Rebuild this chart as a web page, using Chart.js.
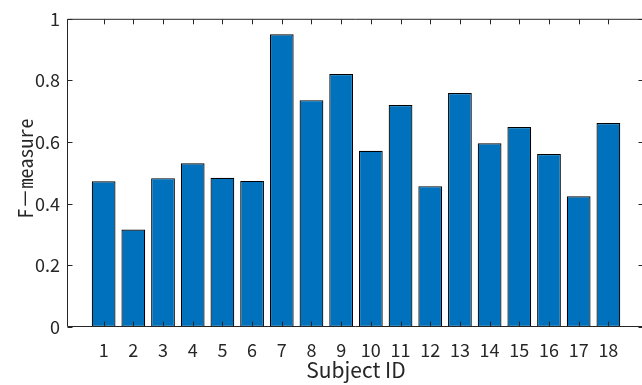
<!DOCTYPE html>
<html>
<head>
<meta charset="utf-8">
<script src="https://cdn.jsdelivr.net/npm/chart.js@4.4.1/dist/chart.umd.min.js"></script>
<style>
  html, body { margin: 0; padding: 0; background: #fff; overflow: hidden; width: 642px; height: 385px; }
  canvas { display: block; }
</style>
</head>
<body>
<canvas id="c" width="650" height="385" style="width:650px;height:385px"></canvas>
<script>
const subjects = [1, 2, 3, 4, 5, 6, 7, 8, 9, 10, 11, 12, 13, 14, 15, 16, 17, 18];
const fMeasure = [0.473, 0.316, 0.483, 0.531, 0.484, 0.474, 0.950, 0.736, 0.821, 0.572, 0.720, 0.457, 0.759, 0.596, 0.649, 0.561, 0.424, 0.662];
const yTickValues = [0, 0.2, 0.4, 0.6, 0.8, 1];
const xLabel = 'Subject ID';
const yLabel = 'F\uFF0Dmeasure';

const FONT = '"Noto Sans CJK JP", "Noto Sans", sans-serif';
const MONO_FONT = '"Noto Sans Mono CJK JP", "Noto Sans CJK JP", sans-serif';
const AXIS_COLOR = '#262626';

const framePlugin = {
  id: 'frame',
  afterDatasetsDraw(chart) {
    const { ctx, chartArea: a, scales } = chart;
    const x = scales.x, y = scales.y;
    const L = a.left - 0.5, R = a.right - 0.5, T = a.top + 0.5, B = a.bottom - 0.5;
    const tl = 5;
    ctx.save();
    ctx.strokeStyle = AXIS_COLOR;
    ctx.lineWidth = 1;
    ctx.beginPath();
    ctx.rect(L, T, R - L, B - T);
    yTickValues.forEach(v => {
      const py = Math.round(y.getPixelForValue(v)) + 0.5;
      ctx.moveTo(L, py); ctx.lineTo(L + tl, py);
      ctx.moveTo(R, py); ctx.lineTo(R - tl, py);
    });
    subjects.forEach(s => {
      const px = Math.round(x.getPixelForValue(s)) + 0.5;
      ctx.moveTo(px, B); ctx.lineTo(px, B - tl);
      ctx.moveTo(px, T); ctx.lineTo(px, T + tl);
    });
    ctx.stroke();
    // y-axis title
    ctx.fillStyle = AXIS_COLOR;
    ctx.font = '20px ' + MONO_FONT;
    ctx.textAlign = 'center';
    ctx.textBaseline = 'middle';
    ctx.translate(25, (a.top + a.bottom) / 2 - 4.5);
    ctx.rotate(-Math.PI / 2);
    ctx.fillText(yLabel, 0, 0);
    ctx.restore();
  }
};

new Chart(document.getElementById('c'), {
  type: 'bar',
  data: {
    datasets: [{
      data: subjects.map((s, i) => ({ x: s, y: fMeasure[i] })),
      backgroundColor: '#0072BD',
      borderColor: '#000000',
      borderWidth: 1.2,
      borderSkipped: false,
      barPercentage: 0.8,
      categoryPercentage: 1.0
    }]
  },
  options: {
    responsive: false,
    animation: false,
    devicePixelRatio: 1,
    layout: { padding: { top: 15, right: 6, left: 0, bottom: 0 } },
    plugins: { legend: { display: false }, tooltip: { enabled: false } },
    scales: {
      x: {
        type: 'linear',
        min: -0.2,
        max: 19.2,
        offset: false,
        grid: { display: false, offset: false, drawTicks: false },
        border: { display: false },
        afterBuildTicks: s => { s.ticks = subjects.map(v => ({ value: v })); },
        afterFit: s => { s.height = 58; },
        ticks: {
          autoSkip: false,
          maxRotation: 0,
          padding: 12,
          color: AXIS_COLOR,
          font: { family: FONT, size: 18 },
          callback: v => String(v)
        },
        title: {
          display: true,
          text: xLabel,
          color: AXIS_COLOR,
          font: { family: FONT, size: 21 },
          padding: { top: 0, bottom: 2 }
        }
      },
      y: {
        type: 'linear',
        min: 0,
        max: 1,
        grid: { display: false, drawTicks: false },
        border: { display: false },
        afterBuildTicks: s => { s.ticks = yTickValues.map(v => ({ value: v })); },
        afterFit: s => { s.width = 68; },
        ticks: {
          padding: 8,
          color: AXIS_COLOR,
          font: { family: FONT, size: 18 },
          callback: v => String(Number(v.toFixed(1)))
        },
        title: { display: false }
      }
    }
  },
  plugins: [framePlugin]
});
</script>
</body>
</html>
